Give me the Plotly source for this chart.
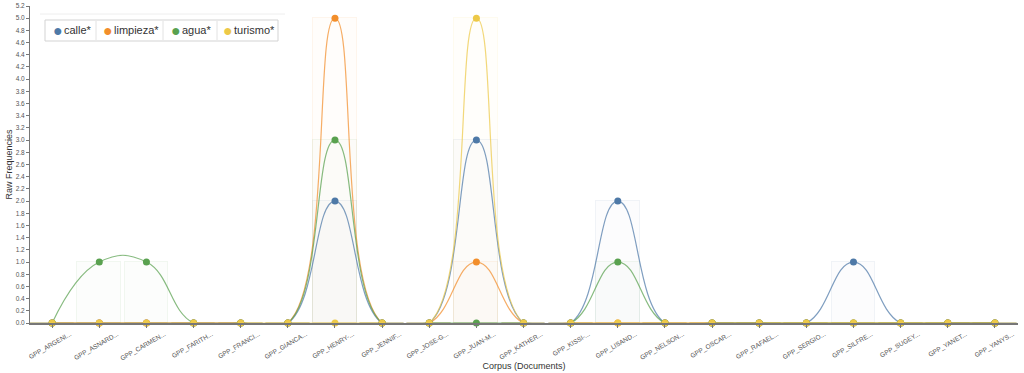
import plotly.graph_objects as go

docs = ["GPP_ARGENI...", "GPP_ASNARD...", "GPP_CARMEN...", "GPP_FARITH...", "GPP_FRANCI...",
        "GPP_GIANCA...", "GPP_HENRY-...", "GPP_JENNIF...", "GPP_JOSE-G...", "GPP_JUAN-M...",
        "GPP_KATHER...", "GPP_KISSI-...", "GPP_LISAND...", "GPP_NELSON...", "GPP_OSCAR...",
        "GPP_RAFAEL...", "GPP_SERGIO...", "GPP_SILFRE...", "GPP_SUGEY...", "GPP_YANET...",
        "GPP_YANYS..."]
terms = ["calle*", "limpieza*", "agua*", "turismo*"]
calle    = [0, 0, 0, 0, 0, 0, 2, 0, 0, 3, 0, 0, 2, 0, 0, 0, 0, 1, 0, 0, 0]
limpieza = [0, 0, 0, 0, 0, 0, 5, 0, 0, 1, 0, 0, 0, 0, 0, 0, 0, 0, 0, 0, 0]
agua     = [0, 1, 1, 0, 0, 0, 3, 0, 0, 0, 0, 0, 1, 0, 0, 0, 0, 0, 0, 0, 0]
turismo  = [0, 0, 0, 0, 0, 0, 0, 0, 0, 5, 0, 0, 0, 0, 0, 0, 0, 0, 0, 0, 0]
series = [calle, limpieza, agua, turismo]
colors = ["#4e79a7", "#f28e2b", "#59a14f", "#edc948"]

W, H = 1024, 373
ML, MR, MT, MB = 30, 6, 6, 50
PW, PH = W - ML - MR, H - MT - MB


def rgba(h, a):
    h = h.lstrip("#")
    r, g, b = int(h[0:2], 16), int(h[2:4], 16), int(h[4:6], 16)
    return f"rgba({r},{g},{b},{a})"


def px(xp):
    return (xp - ML) / PW


def py(yp):
    return (H - MB - yp) / PH


fig = go.Figure()
# faint background bars
for name, vals, c in zip(terms, series, colors):
    fig.add_trace(go.Bar(x=docs, y=vals, width=0.93, showlegend=False, hoverinfo="skip",
                         marker=dict(color=rgba(c, 0.018), line=dict(color=rgba(c, 0.08), width=1))))
# smooth lines
for name, vals, c in zip(terms, series, colors):
    fig.add_trace(go.Scatter(x=docs, y=vals, mode="lines", showlegend=False, name=name,
                             line=dict(color=rgba(c, 0.72), width=1.2, shape="spline", smoothing=1.3)))
# markers
for name, vals, c in zip(terms, series, colors):
    fig.add_trace(go.Scatter(x=docs, y=vals, mode="markers", name=name, cliponaxis=False,
                             showlegend=False, marker=dict(color=c, size=7)))

# compact legend box (styled like the reference's toolbar legend)
shapes = [
    dict(type="line", xref="paper", yref="paper", x0=px(40), x1=px(285), y0=py(14), y1=py(14),
         line=dict(color="#eeeeee", width=1)),
    dict(type="rect", xref="paper", yref="paper", x0=px(45), x1=px(278), y0=py(41), y1=py(20),
         fillcolor="white", line=dict(color="#d3d3d3", width=1), layer="above"),
]
for sx in [96, 163, 217]:
    shapes.append(dict(type="line", xref="paper", yref="paper", x0=px(sx), x1=px(sx),
                       y0=py(40), y1=py(21), line=dict(color="#e2e2e2", width=1), layer="above"))
annotations = []
item_x = [51, 101, 169, 221]
for name, c, ix in zip(terms, colors, item_x):
    annotations.append(dict(xref="paper", yref="paper", x=px(ix), y=py(30.5), xanchor="left",
                            yanchor="middle", showarrow=False, text="●",
                            font=dict(size=16, color=c)))
    annotations.append(dict(xref="paper", yref="paper", x=px(ix + 11), y=py(30.5), xanchor="left",
                            yanchor="middle", showarrow=False, text=name,
                            font=dict(size=11, color="#333")))

fig.update_layout(
    width=W, height=H,
    margin=dict(l=ML, r=MR, t=MT, b=MB),
    paper_bgcolor="white", plot_bgcolor="white",
    barmode="overlay", bargap=0,
    font=dict(family="Liberation Sans, Arial, sans-serif", color="#444"),
    showlegend=False,
    shapes=shapes, annotations=annotations,
)
fig.update_xaxes(
    type="category", range=[-0.47, 20.49], automargin=False,
    showline=True, linecolor="#777", linewidth=2,
    ticks="outside", ticklen=3, tickcolor="#777",
    tickangle=-30, ticklabelshift=18, tickfont=dict(size=6.5, color="#555"),
    showgrid=False, zeroline=False,
    title=dict(text="Corpus (Documents)", font=dict(size=9, color="#333"), standoff=1),
)
fig.update_yaxes(
    range=[0, 5.2], dtick=0.2, tickformat=".1f", automargin=False,
    showline=True, linecolor="#777", linewidth=1,
    ticks="outside", ticklen=3, tickcolor="#777",
    tickfont=dict(size=6.5, color="#555"),
    showgrid=False, zeroline=False,
    title=dict(text="Raw Frequencies", font=dict(size=9, color="#333"), standoff=1),
)

fig.write_html("out.html", config={"displayModeBar": False},
               post_script="document.body.style.margin='0';")
